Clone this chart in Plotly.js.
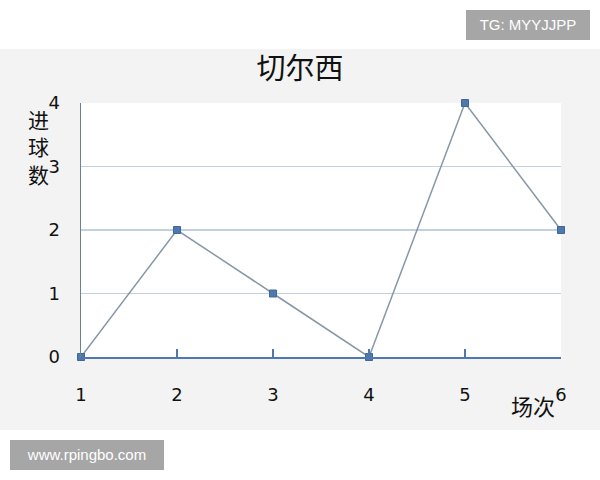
<!DOCTYPE html>
<html>
<head>
<meta charset="utf-8">
<script src="https://cdn.plot.ly/plotly-3.0.1.min.js"></script>
<style>
  html, body { margin: 0; padding: 0; background: #ffffff; width: 600px; height: 480px; overflow: hidden; }
  #band { position: absolute; left: 0; top: 49px; width: 600px; height: 381px; background: #f3f3f3; }
  #chart { position: absolute; left: 0; top: 0; width: 600px; height: 480px; }
  .wm { position: absolute; background: #a6a6a6; color: #ffffff; font-family: "Liberation Sans", Arial, sans-serif; font-size: 15px; line-height: 30px; text-align: center; }
  #wm1 { left: 466px; top: 10px; width: 124px; height: 30px; }
  #wm2 { left: 10px; top: 440px; width: 154px; height: 30px; }
</style>
</head>
<body>
<div id="band"></div>
<div id="chart"></div>
<div class="wm" id="wm1">TG: MYYJJPP</div>
<div class="wm" id="wm2">www.rpingbo.com</div>
<script>
const matches = [1, 2, 3, 4, 5, 6];
const goals = [0, 2, 1, 0, 4, 2];
const xTickLabels = ["1", "2", "3", "4", "5", "6"];
const yTickVals = [0, 1, 2, 3, 4];
const yTickLabels = ["0", "1", "2", "3", "4"];
const chartTitle = "切尔西";
const xTitle = "场次";
const yTitle = "进<br>球<br>数";

const trace = {
  x: matches,
  y: goals,
  type: "scatter",
  mode: "lines+markers",
  line: { color: "#8797a8", width: 1.5 },
  marker: { symbol: "square", size: 7, color: "#4f79ae", line: { color: "#3f6898", width: 1 } },
  cliponaxis: false,
  hoverinfo: "skip"
};

const layout = {
  width: 600,
  height: 480,
  margin: { l: 81, r: 39, t: 103, b: 123 },
  paper_bgcolor: "rgba(0,0,0,0)",
  plot_bgcolor: "#ffffff",
  showlegend: false,
  font: { family: "DejaVu Sans, sans-serif", color: "#1a1a1a" },
  title: {
    text: chartTitle,
    font: { family: "Noto Sans CJK SC", size: 29, color: "#111111" },
    x: 0.5, xanchor: "center",
    y: 0.856, yanchor: "middle", yref: "container"
  },
  xaxis: {
    range: [1, 6],
    tickvals: matches,
    ticktext: xTickLabels,
    showgrid: false,
    zeroline: false,
    showline: true,
    linecolor: "#4f79ae",
    linewidth: 2,
    ticks: "inside",
    ticklen: 8,
    tickwidth: 1.5,
    tickcolor: "#4f79ae",
    ticklabelstandoff: 20,
    tickfont: { size: 18, color: "#111111" },
    fixedrange: true
  },
  yaxis: {
    range: [0, 4],
    tickvals: yTickVals,
    ticktext: yTickLabels,
    showgrid: true,
    gridcolor: "#c3d0dd",
    gridwidth: 1.5,
    zeroline: false,
    showline: true,
    linecolor: "#6f8090",
    linewidth: 1.5,
    ticks: "",
    ticklabelstandoff: 16,
    tickfont: { size: 18, color: "#111111" },
    fixedrange: true
  },
  annotations: [
    {
      text: yTitle,
      xref: "paper", yref: "paper",
      x: -0.088, y: 0.83,
      xanchor: "center", yanchor: "middle",
      showarrow: false,
      font: { family: "Noto Sans CJK SC", size: 21, color: "#111111" }
    },
    {
      text: xTitle,
      xref: "paper", yref: "paper",
      x: 0.942, y: -0.189,
      xanchor: "center", yanchor: "middle",
      showarrow: false,
      font: { family: "Noto Sans CJK SC", size: 22, color: "#111111" }
    }
  ]
};

Plotly.newPlot("chart", [trace], layout, { staticPlot: true, displayModeBar: false });
</script>
</body>
</html>
